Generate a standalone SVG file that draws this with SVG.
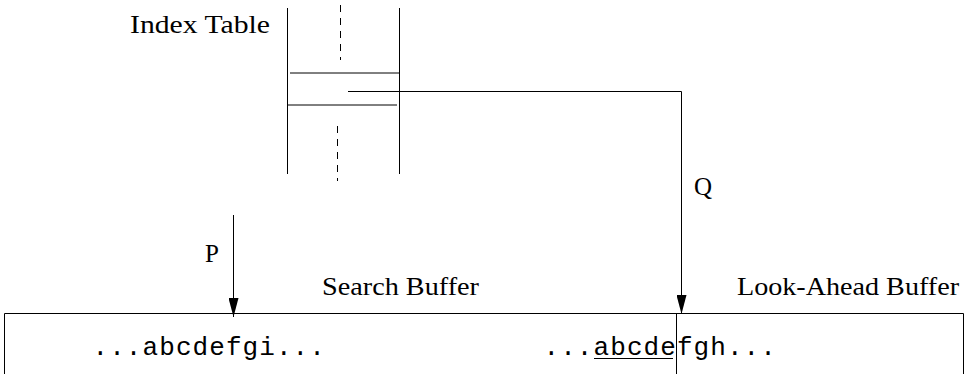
<svg xmlns="http://www.w3.org/2000/svg" width="966" height="374" viewBox="0 0 966 374">
<defs>
<style>
.ln{stroke:#000;stroke-width:1;fill:none}
.dash{stroke:#000;stroke-width:1;fill:none;stroke-dasharray:7 6}
.rm{font-family:'Liberation Serif','DejaVu Serif','Times New Roman',serif;font-size:25px;fill:#000}
.tt{font-family:'Liberation Mono','DejaVu Sans Mono','Courier New',monospace;font-size:26px;fill:#000}
</style>
<marker id="ah" markerUnits="userSpaceOnUse" markerWidth="19" markerHeight="10" refX="19" refY="5" viewBox="0 0 19 10" orient="auto">
<path d="M0,0 L19,5 L0,10 Z" fill="#000"/>
</marker>
</defs>
<rect width="966" height="374" fill="#fff"/>
<g id="index-table">
<line class="ln" x1="287.5" y1="8" x2="287.5" y2="174"/>
<line class="ln" x1="399.5" y1="8" x2="399.5" y2="174"/>
<line class="dash" x1="340.5" y1="5" x2="340.5" y2="60"/>
<line class="dash" x1="337.5" y1="126" x2="337.5" y2="181"/>
<line class="ln" x1="290" y1="73" x2="399.5" y2="73"/>
<line class="ln" x1="287.5" y1="105" x2="397" y2="105"/>
<text class="rm" font-family="Liberation Serif, serif" x="130" y="33" textLength="140" lengthAdjust="spacingAndGlyphs">Index Table</text>
</g>
<g id="buffer">
<path class="ln" d="M4.5,380 V313.5 H963.5 V380"/>
<line class="ln" x1="676.5" y1="313.5" x2="676.5" y2="380"/>
<text class="rm" font-family="Liberation Serif, serif" x="322" y="295" textLength="157" lengthAdjust="spacingAndGlyphs">Search Buffer</text>
<text class="rm" font-family="Liberation Serif, serif" x="737" y="295" textLength="222" lengthAdjust="spacingAndGlyphs">Look-Ahead Buffer</text>
<text class="tt" x="92.5" y="355" textLength="232.4" lengthAdjust="spacing">...abcdefgi...</text>
<text class="tt" x="543.5" y="355" textLength="232.4" lengthAdjust="spacing">...abcdefgh...</text>
<line class="ln" x1="594" y1="358.5" x2="673" y2="358.5"/>
</g>
<g id="connectors">
<line class="ln" x1="233.5" y1="215" x2="233.5" y2="317" marker-end="url(#ah)"/>
<text class="rm" font-family="Liberation Serif, serif" x="205" y="262">P</text>
<path class="ln" d="M348,91.5 H681.5 V314" marker-end="url(#ah)"/>
<text class="rm" font-family="Liberation Serif, serif" x="694" y="195">Q</text>
</g>
</svg>
